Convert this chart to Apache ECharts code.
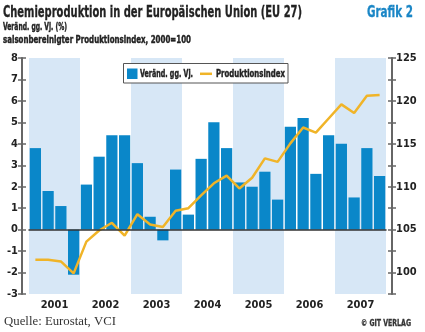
<!DOCTYPE html>
<html><head><meta charset="utf-8">
<script src="https://cdn.jsdelivr.net/npm/echarts@6/dist/echarts.min.js"></script>
<style>html,body{margin:0;padding:0;background:#fff}#c{width:425px;height:332px}</style>
</head><body><div id="c"></div>
<script>
const quarters = ['2001Q1','2001Q2','2001Q3','2001Q4','2002Q1','2002Q2','2002Q3','2002Q4','2003Q1','2003Q2','2003Q3','2003Q4','2004Q1','2004Q2','2004Q3','2004Q4','2005Q1','2005Q2','2005Q3','2005Q4','2006Q1','2006Q2','2006Q3','2006Q4','2007Q1','2007Q2','2007Q3','2007Q4'];
const years = ['2001','2002','2003','2004','2005','2006','2007'];
const shadedYears = ['2001','2003','2005','2007'];
const changeYoY = [3.8,1.8,1.1,-2.1, 2.1,3.4,4.4,4.4, 3.1,0.6,-0.5,2.8, 0.7,3.3,5.0,3.8, 2.2,2.0,2.7,1.4, 4.8,5.2,2.6,4.4, 4.0,1.5,3.8,2.5];
const prodIndex = [101.5,101.5,101.3,99.9, 103.6,104.9,105.8,104.3, 106.8,105.6,105.3,107.2, 107.5,109.0,110.4,111.3, 109.8,111.05,113.3,112.9, 115.05,116.9,116.3,117.95, 119.6,118.6,120.6,120.7];
const leftTicks = {min:-3, max:8, interval:1};
const rightTicks = {min:97.5, max:125, interval:2.5};
const seriesNames = ['Veränd. gg. Vj.', 'Produktionsindex'];

const FONT = '"DejaVu Sans Condensed","Liberation Sans Narrow",sans-serif';
const axisCol = '#666';
const BLUE = '#0a87c9', GOLD = '#f0b428', SHADE = '#d7e7f6';
const shadeHi = years.map(y => shadedYears.includes(y) ? leftTicks.max : '-');
const shadeLo = years.map(y => shadedYears.includes(y) ? leftTicks.min : '-');

// condensed text helper: fit text into a target width
const mctx = document.createElement('canvas').getContext('2d');
function fitText(text, x, y, targetW, size, weight, family, color, alignRight, thick) {
  const font = weight + ' ' + size + 'px ' + family;
  mctx.font = font;
  const w = mctx.measureText(text).width;
  const s = targetW / w;
  const style = {text:text, x:0, y:0, font:font, fill:color, align: alignRight ? 'right' : 'left', verticalAlign:'middle'};
  if (thick) { style.stroke = color; style.lineWidth = thick; }
  return {type:'text', x: x, y: y, scaleX: s, silent:true, z:100, style: style};
}

const chart = echarts.init(document.getElementById('c'), null, {renderer:'canvas'});
chart.setOption({
  animation:false,
  textStyle:{fontFamily:FONT},
  graphic:[
    fitText('Chemieproduktion in der Europäischen Union (EU 27)', 3, 13, 299, 16, 'bold', FONT, '#222', false, 0.3),
    fitText('Grafik 2', 413, 13, 46, 16, 'bold', FONT, '#1a86c6', true, 0.3),
    fitText('Veränd. gg. Vj. (%)', 3, 27.6, 64, 10, 'bold', FONT, '#222', false, 0.4),
    fitText('saisonbereinigter Produktionsindex, 2000=100', 3, 40.2, 188, 10, 'bold', FONT, '#222', false, 0.4),
    fitText('Quelle: Eurostat, VCI', 4, 322, 112, 13, 'normal', '"Liberation Serif",serif', '#333'),
    fitText('© GIT VERLAG', 411, 324, 50, 9, 'bold', FONT, '#333', true, 0.3),
    // legend box
    {type:'rect', z:99, silent:true, shape:{x:123.5, y:63.5, width:164.5, height:19.5},
     style:{fill:'#fff', stroke:'#555', lineWidth:1}},
    {type:'rect', z:100, silent:true, shape:{x:127, y:68.5, width:10.5, height:10.5}, style:{fill:BLUE}},
    fitText(seriesNames[0], 140, 74, 53, 10, 'bold', FONT, '#222', false, 0.4),
    {type:'line', z:100, silent:true, shape:{x1:200, y1:73.8, x2:212, y2:73.8}, style:{stroke:GOLD, lineWidth:2.5}},
    fitText(seriesNames[1], 216, 74, 69, 10, 'bold', FONT, '#222', false, 0.4)
  ],
  grid:{left:29, right:39, top:58, bottom:38},
  xAxis:[
    {type:'category', data:quarters, boundaryGap:true, position:'bottom', z:10,
     axisLine:{show:true, onZero:true, lineStyle:{color:'#333', width:1.5}},
     axisTick:{show:false}, axisLabel:{show:false}, splitLine:{show:false}},
    {type:'category', data:years, boundaryGap:true, position:'bottom',
     axisLine:{show:false}, axisTick:{show:false},
     axisLabel:{margin:6, fontFamily:FONT, fontWeight:'bold', fontSize:11, color:'#222'}}
  ],
  yAxis:[
    {type:'value', position:'left', offset:7, min:leftTicks.min, max:leftTicks.max, interval:leftTicks.interval,
     axisLine:{show:true, lineStyle:{color:axisCol, width:2}},
     axisTick:{show:true, length:4, lineStyle:{color:axisCol, width:1.5}},
     axisLabel:{margin:4, fontFamily:FONT, fontWeight:'bold', fontSize:11, color:'#222'},
     splitLine:{show:false}},
    {type:'value', position:'right', offset:6, min:rightTicks.min, max:rightTicks.max, interval:rightTicks.interval,
     axisLine:{show:true, lineStyle:{color:axisCol, width:2}},
     axisTick:{show:true, length:4, lineStyle:{color:axisCol, width:1.5}},
     axisLabel:{margin:4, fontFamily:FONT, fontWeight:'bold', fontSize:11, color:'#222',
       formatter:v => (Math.abs(v % 5) < 1e-6 ? String(v) : '')},
     splitLine:{show:false}},
    {type:'value', position:'left', offset:7, min:leftTicks.min, max:leftTicks.max, interval:leftTicks.interval,
     axisLine:{show:false}, axisTick:{show:true, inside:true, length:4, lineStyle:{color:axisCol, width:1.5}},
     axisLabel:{show:false}, splitLine:{show:false}},
    {type:'value', position:'right', offset:6, min:rightTicks.min, max:rightTicks.max, interval:rightTicks.interval,
     axisLine:{show:false}, axisTick:{show:true, inside:true, length:4, lineStyle:{color:axisCol, width:1.5}},
     axisLabel:{show:false}, splitLine:{show:false}}
  ],
  series:[
    {name:'shadeHi', type:'bar', xAxisIndex:1, yAxisIndex:0, data:shadeHi, barWidth:'100%', barGap:'-100%',
     itemStyle:{color:SHADE}, silent:true, z:1},
    {name:'shadeLo', type:'bar', xAxisIndex:1, yAxisIndex:0, data:shadeLo, barWidth:'100%', barGap:'-100%',
     itemStyle:{color:SHADE}, silent:true, z:1},
    {name:seriesNames[0], type:'bar', xAxisIndex:0, yAxisIndex:0, data:changeYoY, barCategoryGap:'12%',
     itemStyle:{color:BLUE}, z:2},
    {name:seriesNames[1], type:'line', xAxisIndex:0, yAxisIndex:1, data:prodIndex, symbol:'none',
     lineStyle:{color:GOLD, width:2.5}, itemStyle:{color:GOLD}, z:3}
  ]
});
</script></body></html>
